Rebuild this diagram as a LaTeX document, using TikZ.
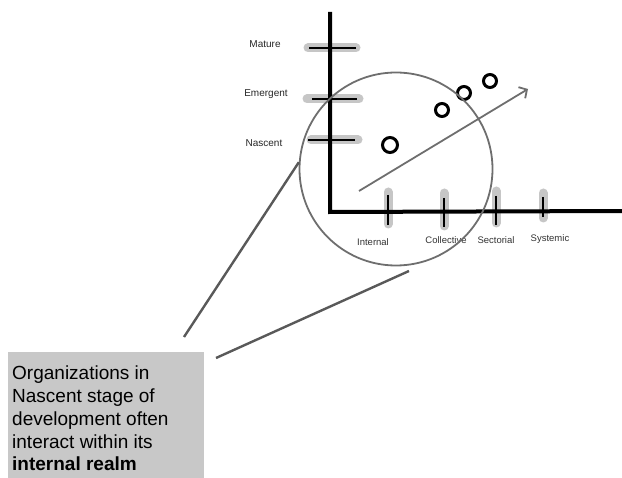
\documentclass[tikz,border=0pt]{standalone}
\usepackage{fontspec}
\setmainfont{Liberation Sans}
\usetikzlibrary{arrows.meta}
\usetikzlibrary{positioning}
\definecolor{halogray}{HTML}{C6C6C6}
\definecolor{ringgray}{HTML}{6E6E6E}
\definecolor{boxgray}{HTML}{C8C8C8}

\begin{document}
\begin{tikzpicture}[x=1pt,y=-1pt,
    halo/.style={line width=9pt,halogray,line cap=round},
    tickmark/.style={line width=2.6pt,black},
    axis/.style={line width=4pt,black},
    level/.style={font=\fontsize{10}{12}\selectfont,anchor=base,inner sep=0pt,text=black!85},
    realm/.style={font=\fontsize{9.5}{11}\selectfont,anchor=base,inner sep=0pt,text=black!80},
    dot/.style={circle,draw,line width=3pt,inner sep=0pt},
    zoomline/.style={line width=2.4pt,black!65}]
  \useasboundingbox (0,0) rectangle (622,478);
  \fill[boxgray] (8,352) rectangle (204,480);

  % axes
  \coordinate (origin) at (330,212);
  \coordinate (ytop) at (330,12);
  \coordinate (xend) at (624,211);

  % levels on the vertical axis
  \draw[halo] (308,48) -- (356,48);
  \draw[halo] (307,99) -- (359,99);
  \draw[halo] (311,140) -- (358,140);
  % realms on the horizontal axis
  \draw[halo] (388,192) -- (388,224);
  \draw[halo] (444,193) -- (444,226);
  \draw[halo] (496,191) -- (496,223);
  \draw[halo] (543,193) -- (543,218);

  \draw[axis] (ytop) -- (origin) -- (xend);

  \draw[tickmark] (309,48) -- (356,48);
  \draw[tickmark] (312,99) -- (357,99);
  \draw[tickmark] (308,140) -- (355,140);
  \draw[tickmark] (388,195) -- (388,225);
  \draw[tickmark] (444,198) -- (444,227);
  \draw[tickmark] (496,196) -- (496,225);
  \draw[tickmark] (543,197) -- (543,217);

  \node[level] (mature) at (265,48) {Mature};
  \node[level] (emergent) at (266,97) {Emergent};
  \node[level] (nascent) at (264,147) {Nascent};

  \node[realm] (internal) at (373,246) {Internal};
  \node[realm] (collective) at (446,244) {Collective};
  \node[realm] (sectorial) at (496,244) {Sectorial};
  \node[realm] (systemic) at (550,242) {Systemic};

  \node[dot,minimum size=15pt] (orgA) at (390,145) {};
  \node[dot,minimum size=13pt] (orgB) at (442,110) {};
  \node[dot,minimum size=13pt] (orgC) at (464,93) {};
  \node[dot,minimum size=13pt] (orgD) at (490,81) {};

  \coordinate (trendbase) at (359,191);
  \coordinate (trendtip) at (528,89);
  \draw[ringgray,line width=1.8pt,-{Straight Barb[length=6pt,width=13pt]}] (trendbase) -- (trendtip);

  \node[circle,draw=ringgray,line width=1.8pt,minimum size=193pt,inner sep=0pt] (zoomring) at (396,169) {};

  \node[anchor=north west,align=left,inner sep=0pt,font=\fontsize{19}{22.7}\selectfont] (note) at (12,366)
    {Organizations in\\Nascent stage of\\development often\\interact within its\\\textbf{internal realm}};

  \coordinate (lowtip) at (184,337);
  \coordinate (sidetip) at (216,358);
  \draw[zoomline] (lowtip) -- (zoomring.176);
  \draw[zoomline] (sidetip) -- (409,271);
\end{tikzpicture}
\end{document}
